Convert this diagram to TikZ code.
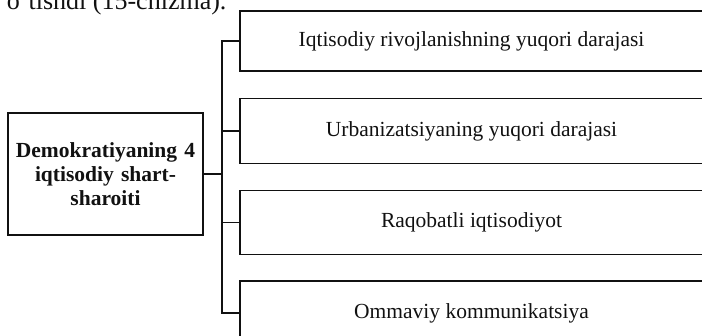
\documentclass[tikz,border=0pt]{standalone}
\usepackage{fontspec}
\setmainfont{Liberation Serif}
\usetikzlibrary{positioning}
\definecolor{clrborder}{HTML}{111111}
\definecolor{clrtext}{HTML}{111111}

\begin{document}
\begin{tikzpicture}[
    x=1pt, y=-1pt,
    every node/.style={font=\fontsize{21.5}{24}\selectfont},
    block/.style={draw=clrborder, line width=1.4pt, minimum width=463pt,
                  text=clrtext, inner sep=0pt},
    mainblock/.style={draw=clrborder, line width=1.4pt, minimum width=195pt,
                  minimum height=122pt, text width=190pt, align=center,
                  font=\fontsize{21.5}{24}\selectfont\bfseries, text=clrtext, inner sep=0pt},
    link/.style={draw=clrborder, line width=1.4pt},
]
\useasboundingbox (0,0) rectangle (702,336);
\node[anchor=base east, text=clrtext, font=\fontsize{26}{30}\selectfont] (n_0) at (230,10) {o‘tishdi (15-chizma).};
\node[mainblock] (n_1) at (105.5,174) {Demokratiyaning 4\\ iqtisodiy shart-\\ sharoiti};
\node[block, minimum height=60pt] (n_2) at (471.5,41) {Iqtisodiy rivojlanishning yuqori darajasi};
\node[block, minimum height=65pt, below=26pt of n_2] (n_3) {Urbanizatsiyaning yuqori darajasi};
\node[block, minimum height=64pt, below=26pt of n_3] (n_4) {Raqobatli iqtisodiyot};
\node[block, minimum height=64pt, below=25pt of n_4] (n_5) {Ommaviy kommunikatsiya};
\coordinate (bus) at (222,174);
\draw[link] (n_1.east) -- (bus);
\foreach \b in {n_2,n_3,n_4,n_5}
    \draw[link] (bus) |- (\b.west);
\end{tikzpicture}
\end{document}
